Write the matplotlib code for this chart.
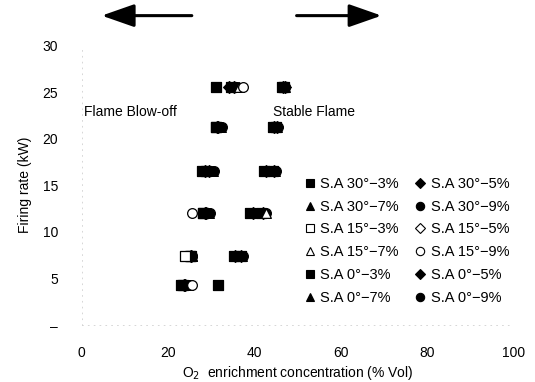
import numpy as np
import matplotlib
matplotlib.use("Agg")
import matplotlib.pyplot as plt
from matplotlib.lines import Line2D

plt.rcParams['font.family'] = ['Liberation Sans', 'DejaVu Sans']

nan = np.nan
firing = [4.3, 7.4, 12.0, 16.5, 21.2, 25.5]

labels = ["S.A 30°−3%", "S.A 30°−5%", "S.A 30°−7%", "S.A 30°−9%",
          "S.A 15°−3%", "S.A 15°−5%", "S.A 15°−7%", "S.A 15°−9%",
          "S.A 0°−3%", "S.A 0°−5%", "S.A 0°−7%", "S.A 0°−9%"]
markers = ['s', 'D', '^', 'o', 's', 'D', '^', 'o', 's', 'D', '^', 'o']
filled = [True, True, True, True, False, False, False, False, True, True, True, True]

# blow-off (left cluster) and stable (right cluster) O2 concentrations
low = [
    [23.5, 25.0, 28.0, 27.8, 31.0, 31.2],
    [24.0, 25.3, 28.5, 28.5, 31.4, 34.2],
    [24.5, 25.5, 29.0, 29.3, 31.8, 35.0],
    [25.0, 25.6, 29.3, 30.0, 32.0, 35.6],
    [nan, 23.9, nan, nan, nan, nan],
    [nan, nan, nan, nan, nan, nan],
    [nan, nan, nan, nan, nan, 36.4],
    [25.6, nan, 25.5, nan, nan, 37.4],
    [23.0, 25.2, 28.2, 28.8, 31.2, 34.5],
    [23.8, 25.4, 28.8, 29.6, 31.6, 35.2],
    [24.2, 25.5, 29.6, 30.4, 32.2, 35.8],
    [24.8, 25.6, 29.8, 30.6, 32.4, 36.0],
]
high = [
    [31.6, 35.2, 39.0, 42.2, 44.4, 46.4],
    [nan, 35.6, 39.6, 42.8, 44.6, 46.6],
    [nan, 36.0, 40.4, 43.4, 44.8, 46.8],
    [nan, 36.4, 41.0, 44.0, 45.0, 47.0],
    [nan, nan, nan, nan, nan, nan],
    [nan, nan, nan, nan, nan, nan],
    [nan, nan, 42.8, nan, nan, nan],
    [nan, nan, nan, nan, nan, nan],
    [nan, 36.8, 41.6, 44.4, 45.1, 46.9],
    [nan, 37.0, 42.0, 44.6, 45.2, 47.0],
    [nan, 37.2, 42.4, 44.8, 45.3, 47.1],
    [nan, 37.4, 42.6, 45.0, 45.4, 47.2],
]

xticks = [0, 20, 40, 60, 80, 100]
yticks = [0, 5, 10, 15, 20, 25, 30]
yticklabels = ['–', '5', '10', '15', '20', '25', '30']

fig = plt.figure(figsize=(5.35, 3.82), dpi=100)
ax = fig.add_axes([0.153, 0.149, 0.806, 0.732])

ms = {'s': 7, 'D': 6, '^': 7, 'o': 7}
order = [0, 1, 2, 3, 8, 9, 10, 11, 4, 5, 6, 7]
for i in order:
    m = markers[i]
    kw = dict(marker=m, s=ms[m] ** 2, linewidths=0.9, zorder=3 if filled[i] else 4)
    if filled[i]:
        kw.update(c='black', edgecolors='black')
    else:
        kw.update(facecolors='white', edgecolors='black')
    ax.scatter(low[i], firing, **kw)
    ax.scatter(high[i], firing, **kw)

ax.set_xlim(0, 100)
ax.set_ylim(0, 30)
ax.set_xticks(xticks)
ax.set_yticks(yticks)
ax.set_yticklabels(yticklabels)
ax.tick_params(length=0, labelsize=10)
ax.tick_params(axis='x', pad=15)
ax.tick_params(axis='y', pad=17)
for s in ['top', 'right']:
    ax.spines[s].set_visible(False)
for s in ['left', 'bottom']:
    ax.spines[s].set_color('#d0d0d0')
    ax.spines[s].set_linestyle((0, (1, 6)))
    ax.spines[s].set_linewidth(0.6)

ax.set_xlabel('O$_2$  enrichment concentration (% Vol)', fontsize=10, labelpad=3)
ax.set_ylabel('Firing rate (kW)', fontsize=10, labelpad=8)

ax.text(0.5, 22.9, 'Flame Blow-off', fontsize=10, va='center', ha='left')
ax.text(44.3, 22.9, 'Stable Flame', fontsize=10, va='center', ha='left')

arrowprops = dict(arrowstyle='-|>,head_length=1.0,head_width=0.35', lw=2.2,
                  color='black', mutation_scale=20, shrinkA=0, shrinkB=0)
ax.annotate('', xy=(4.6, 33.2), xytext=(25.5, 33.2), arrowprops=arrowprops,
            annotation_clip=False)
ax.annotate('', xy=(69.5, 33.2), xytext=(49.8, 33.2), arrowprops=arrowprops,
            annotation_clip=False)

handles = []
for i in range(12):
    m = markers[i]
    handles.append(Line2D([], [], ls='none', marker=m, markersize=ms[m] - 1,
                          markerfacecolor='black' if filled[i] else 'white',
                          markeredgecolor='black', markeredgewidth=0.8,
                          label=labels[i]))
col_order = [0, 2, 4, 6, 8, 10, 1, 3, 5, 7, 9, 11]
leg = ax.legend([handles[k] for k in col_order], [labels[k] for k in col_order],
                ncol=2, loc='upper left', bbox_to_anchor=(0.515, 0.53),
                frameon=False, fontsize=10.5, handlelength=0.8, handletextpad=0.3,
                labelspacing=0.6, columnspacing=1.1, borderaxespad=0, borderpad=0)

fig.savefig('out.png', dpi=100)
